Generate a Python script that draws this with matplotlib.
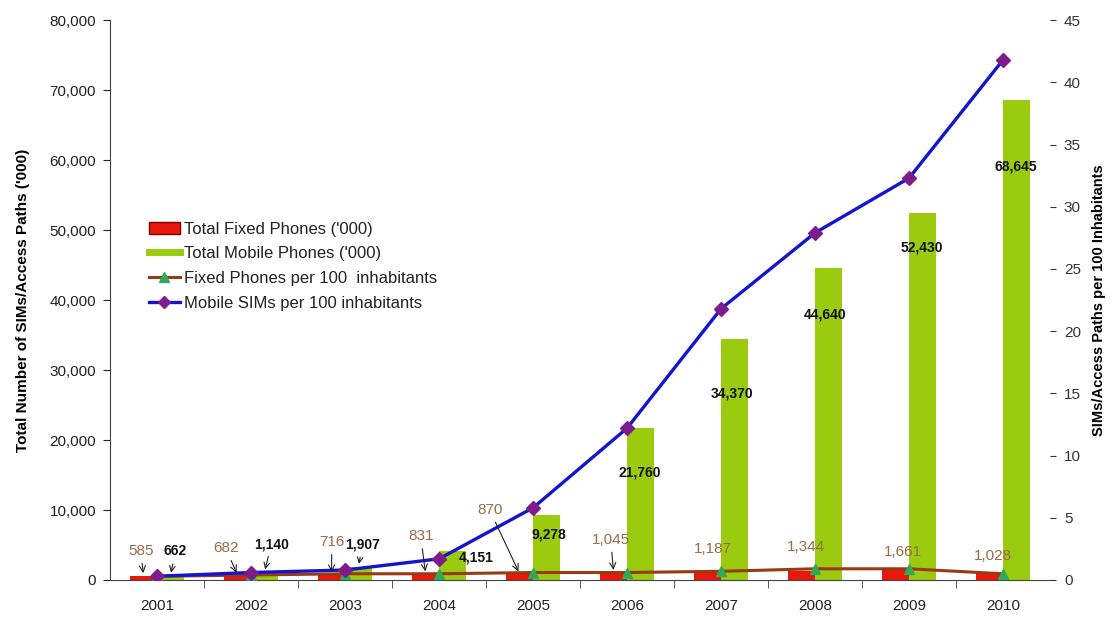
import matplotlib
matplotlib.use("Agg")
import matplotlib.pyplot as plt
from matplotlib.patches import Patch
from matplotlib.lines import Line2D

plt.rcParams['font.family'] = ['Liberation Sans', 'DejaVu Sans']

# data
years = ['2001', '2002', '2003', '2004', '2005', '2006', '2007', '2008', '2009', '2010']
fixed_total = [585, 682, 716, 831, 870, 1045, 1187, 1344, 1661, 1028]
mobile_total = [662, 1140, 1907, 4151, 9278, 21760, 34370, 44640, 52430, 68645]
fixed_per100 = [0.3, 0.4, 0.5, 0.5, 0.6, 0.6, 0.7, 0.9, 0.9, 0.5]
mobile_per100 = [0.3, 0.6, 0.8, 1.7, 5.8, 12.2, 21.8, 27.9, 32.3, 41.8]

# label offsets in pixels (text placement), flag = draw arrow
fixed_off = [(-3, 25, True), (-12, 27, True), (0, 33, True), (-5, 38, True), (-30, 64, True),
             (-3, 33, True), (5, 23, False), (4, 24, False), (7, 16, False), (3, 17, False)]
mobile_off = [(5, 24, True), (7, 28, True), (4, 22, True), (24, -7, False), (2, -19, False),
              (-1, -45, False), (-2, -54, False), (-3, -47, False), (-1, -34, False), (-1, -67, False)]

red = '#e8180c'
green = '#9bcb0e'
brown = '#9a3a10'
blue = '#1414d0'
purple = '#7e1c8c'
tri = '#2eaa5a'
lbl_brown = '#9c6a48'

fig = plt.figure(figsize=(11.16, 6.18), dpi=100)
ax = fig.add_axes([0.0986, 0.0615, 0.8423, 0.906])
ax2 = ax.twinx()

x = list(range(len(years)))
w = 0.285
ax.bar([i - w / 2 for i in x], fixed_total, width=w, color=red, zorder=2)
ax.bar([i + w / 2 for i in x], mobile_total, width=w, color=green, zorder=2)

ax2.plot(x, fixed_per100, color=brown, lw=2.2, marker='^', ms=7,
         mfc=tri, mec=tri, zorder=3)
ax2.plot(x, mobile_per100, color=blue, lw=2.4, marker='D', ms=7,
         mfc=purple, mec=purple, zorder=4)

ax.set_xlim(-0.5, 9.5)
ax.set_ylim(0, 80000)
ax2.set_ylim(0, 45)

ax.set_yticks(range(0, 80001, 10000))
ax.set_yticklabels(['{:,}'.format(v) for v in range(0, 80001, 10000)])
ax2.set_yticks(range(0, 46, 5))

ax.set_xticks(x)
ax.set_xticklabels(years)
ax.set_xticks([i + 0.5 for i in x[:-1]], minor=True)
ax.tick_params(axis='x', which='major', length=0, pad=14, labelsize=11, colors='#222222')
ax.tick_params(axis='x', which='minor', length=6, direction='out', color='#444444')
ax.tick_params(axis='y', length=5, direction='out', labelsize=11, colors='#222222', pad=5)
ax2.tick_params(axis='y', length=4, direction='out', labelsize=11, colors='#333333', pad=6)

for s in ['top', 'right']:
    ax.spines[s].set_visible(False)
for s in ['top', 'right', 'left', 'bottom']:
    ax2.spines[s].set_visible(False)
ax.spines['left'].set_color('#444444')
ax.spines['bottom'].set_color('#444444')

ax.set_ylabel("Total Number of SIMs/Access Paths ('000)", fontsize=11, fontweight='bold', labelpad=14)
ax2.set_ylabel('SIMs/Access Paths per 100 Inhabitants', fontsize=10.5, fontweight='bold', labelpad=8)

# value labels
for i in x:
    dx, dy, arrow = fixed_off[i]
    ap = dict(arrowstyle='->', color='#222222', lw=0.8) if arrow else None
    ax2.annotate('{:,}'.format(fixed_total[i]), xy=(i - w / 2, fixed_total[i]), xycoords=ax.transData,
                 xytext=(dx, dy), textcoords='offset pixels', ha='center', va='center',
                 fontsize=11, color=lbl_brown, arrowprops=ap, zorder=6)
    dx, dy, arrow = mobile_off[i]
    ap = dict(arrowstyle='->', color='#222222', lw=0.8) if arrow else None
    ax2.annotate('{:,}'.format(mobile_total[i]), xy=(i + w / 2, mobile_total[i]), xycoords=ax.transData,
                 xytext=(dx, dy), textcoords='offset pixels', ha='center', va='center',
                 fontsize=10, fontweight='bold', color='#111111', arrowprops=ap, zorder=6)

handles = [
    Patch(facecolor=red, edgecolor='#7a0000'),
    Line2D([0], [0], color=green, lw=5),
    Line2D([0], [0], color=brown, lw=2.2, marker='^', ms=7, mfc=tri, mec=tri),
    Line2D([0], [0], color=blue, lw=2.4, marker='D', ms=6, mfc=purple, mec=purple),
]
labels = ["Total Fixed Phones ('000)", "Total Mobile Phones ('000)",
          'Fixed Phones per 100  inhabitants', 'Mobile SIMs per 100 inhabitants']
ax2.legend(handles, labels, loc='upper left', bbox_to_anchor=(0.025, 0.667), frameon=False,
           fontsize=12, handlelength=1.9, handletextpad=0.2, labelspacing=0.58,
           labelcolor='#222222')

fig.savefig('out.png', dpi=100)
